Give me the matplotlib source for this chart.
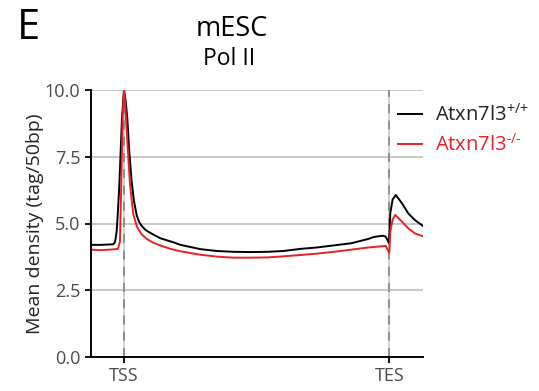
import matplotlib
matplotlib.use("Agg")
import matplotlib.pyplot as plt

plt.rcParams['font.family'] = ['Open Sans', 'DejaVu Sans']
plt.rcParams['mathtext.fontset'] = 'custom'
plt.rcParams['mathtext.rm'] = 'Open Sans'
plt.rcParams['mathtext.it'] = 'Open Sans'

# metagene coordinates: 0-10 upstream, 10-90 scaled gene body, 90-100 downstream
TSS, TES, END = 10, 90, 100

wt_x = [0, 3, 6.7, 7.3, 7.8, 8.2, 8.6, 9.0, 9.4, 10, 10.5, 11.0, 11.6, 12.3, 13.0, 13.85,
        14.6, 15.4, 16.5, 17.9, 20.9, 24.8, 27, 33, 38, 43, 48, 53.3, 58, 63.3, 68,
        73.3, 78.5, 83.6, 85.5, 88.0, 88.9, 89.9, 90.3, 91.0, 91.95, 93.8, 95.7,
        97.7, 100]
wt_y = [4.2, 4.2, 4.22, 4.3, 4.7, 5.5, 6.44, 7.69, 8.95, 10.0, 9.6, 8.95, 7.69, 6.6, 5.85, 5.3,
        5.05, 4.9, 4.76, 4.65, 4.45, 4.3, 4.2, 4.04, 3.97, 3.94, 3.93, 3.94, 3.97, 4.05, 4.1,
        4.18, 4.26, 4.42, 4.5, 4.54, 4.51, 4.26, 5.4, 5.9, 6.07, 5.76, 5.38,
        5.13, 4.92]

ko_x = [0, 3, 6.7, 8.18, 8.79, 9.18, 9.6, 10, 10.3, 10.6, 11.2, 11.8, 12.8, 14.0, 15.3,
        16.9, 18.8, 20.9, 24, 27, 33, 38, 43, 48, 53.3, 58, 63.3, 68, 73.3, 78.5,
        83.6, 88.9, 90.0, 90.3, 91.0, 91.8, 93.8, 95.7, 97.7, 100]
ko_y = [4.02, 4.0, 4.03, 4.05, 4.32, 6.44, 8.95, 10.0, 9.6, 8.95, 7.69, 6.5, 5.35, 4.85, 4.6,
        4.42, 4.28, 4.18, 4.05, 3.96, 3.83, 3.76, 3.72, 3.72, 3.73, 3.77, 3.82, 3.87, 3.94, 4.02,
        4.1, 4.16, 3.9, 4.7, 5.15, 5.32, 5.07, 4.82, 4.63, 4.53]

yticks = [0.0, 2.5, 5.0, 7.5, 10.0]
xtick_pos = [TSS, TES]
xtick_labels = ["TSS", "TES"]

W, H = 539, 391
fig = plt.figure(figsize=(W / 100, H / 100), dpi=100)
ax = fig.add_axes([90.8 / W, 34 / H, 331.7 / W, 267 / H])

tick_col = "#4a4a4a"
for y in yticks[1:]:
    ax.axhline(y, color="#c4c4c4", lw=1.3, zorder=0)
for xv in xtick_pos:
    ax.axvline(xv, color="#cfcfcf", lw=1.3, zorder=0)
    ax.axvline(xv, color="#8a8a8a", lw=1.3, ls=(0, (5, 4)), zorder=0.5)

ax.plot(wt_x, wt_y, color="black", lw=1.4, label=r"Atxn7l3$^{\text{+/+}}$")
ax.plot(ko_x, ko_y, color="#e8202a", lw=1.4, label=r"Atxn7l3$^{\text{-/-}}$")

ax.set_xlim(0, END)
ax.set_ylim(0, 10)
ax.set_yticks(yticks)
ax.set_yticklabels([f"{v:.1f}" for v in yticks])
ax.set_xticks(xtick_pos)
ax.set_xticklabels(xtick_labels)
ax.tick_params(axis="both", colors="black", labelcolor=tick_col, labelsize=13,
               width=1.3, length=4)
for s in ("top", "right"):
    ax.spines[s].set_visible(False)
for s in ("left", "bottom"):
    ax.spines[s].set_linewidth(1.4)
ax.set_ylabel("Mean density (tag/50bp)", fontsize=14, color="#222222", labelpad=0.5)

leg = fig.legend(handles=ax.get_lines()[-2:], loc="upper left",
                 bbox_to_anchor=(398 / W, 1 - 104 / H), bbox_transform=fig.transFigure,
                 frameon=False, fontsize=14.5, borderpad=0, borderaxespad=0,
                 handlelength=1.2, handletextpad=0.65, labelspacing=0.4)
for txt, col in zip(leg.get_texts(), ["#222222", "#e8202a"]):
    txt.set_color(col)

fig.text(17 / W, 1 - 39 / H, "E", fontsize=30, ha="left", va="baseline")
fig.text(232 / W, 1 - 36 / H, "mESC", fontsize=19.5, ha="center", va="baseline")
fig.text(229 / W, 1 - 65 / H, "Pol II", fontsize=16.5, ha="center", va="baseline")

fig.savefig("out.png", dpi=100)
